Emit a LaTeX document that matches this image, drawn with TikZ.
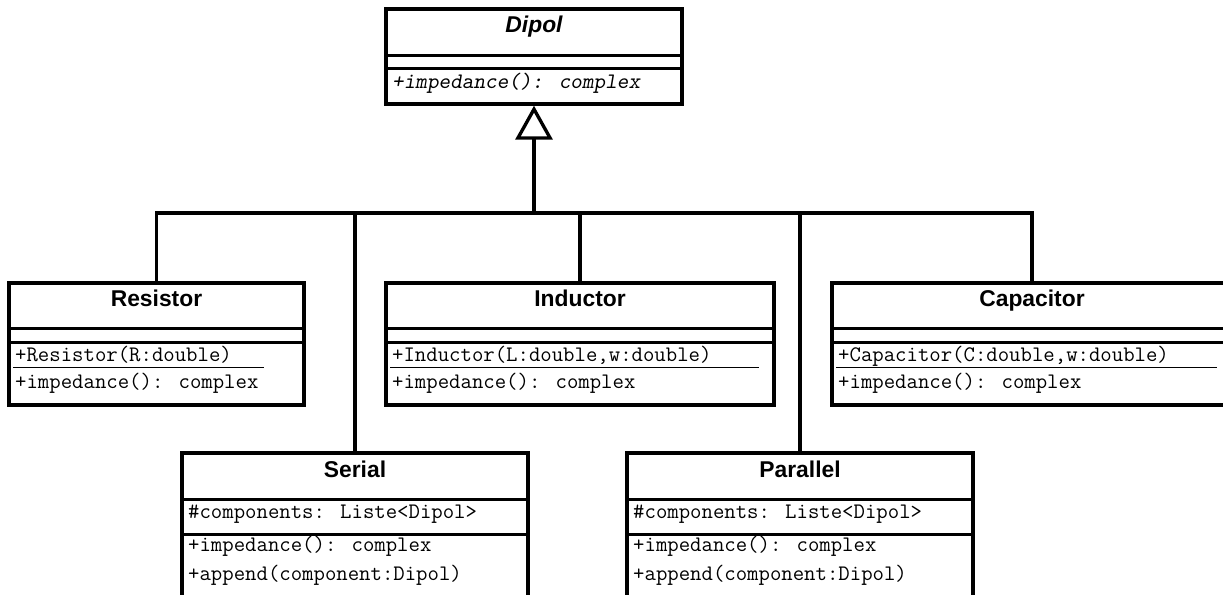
\documentclass[tikz,border=0pt]{standalone}
\usepackage{fontspec}
\setmainfont{Liberation Sans}
\usetikzlibrary{positioning}
\usetikzlibrary{calc}
\usetikzlibrary{arrows.meta}
\tikzset{
    % Class outlines and the rules between compartments
    classbox/.style={draw, rectangle, line width=1.9pt, inner sep=0},
    rule/.style={line width=1.9pt},
    static rule/.style={line width=0.9pt},
%
    % Texts: class names in bold sans, members in typewriter
    class name/.style={anchor=base, inner sep=0,
        font=\fontsize{13}{15}\selectfont\bfseries},
    abstract name/.style={anchor=base, inner sep=0,
        font=\fontsize{13}{15}\selectfont\bfseries\itshape},
    member/.style={anchor=base west, inner sep=0,
        font=\fontsize{12.6}{14}\selectfont\ttfamily},
    abstract member/.style={member,
        font=\fontsize{12.6}{14}\selectfont\ttfamily\slshape},
%
    % Generalisation lines
    inherit/.style={line width=1.9pt},
}

\begin{document}
\begin{tikzpicture}
\clip (0,0) rectangle (24.46,-11.88);

% Abstract base class
\node (dipol) [classbox, minimum width=5.92cm, minimum height=1.90cm]
    at (10.68,-1.13) {};
\node (dipol-name) [abstract name] at ($(dipol.north)+(0,-0.50)$) {Dipol};
\draw [rule] ($(dipol.north west)+(0,-0.96)$) -- ++(5.92,0);
\draw [rule] ($(dipol.north west)+(0,-1.22)$) -- ++(5.92,0);
\node (dipol-imp) [abstract member] at ($(dipol.north west)+(0.15,-1.62)$)
    {+impedance(): complex};

% Simple components
\node (resistor) [classbox, minimum width=5.90cm, minimum height=2.44cm]
    at (3.13,-6.88) {};
\node (resistor-name) [class name] at ($(resistor.north)+(0,-0.50)$) {Resistor};
\draw [rule] ($(resistor.north west)+(0,-0.94)$) -- ++(5.90,0);
\draw [rule] ($(resistor.north west)+(0,-1.22)$) -- ++(5.90,0);
\node (resistor-ctor) [member] at ($(resistor.north west)+(0.15,-1.60)$)
    {+Resistor(R:double)};
\draw [static rule] ($(resistor.north west)+(0.12,-1.72)$) -- ++(5.02,0);
\node (resistor-imp) [member] at ($(resistor.north west)+(0.15,-2.14)$)
    {+impedance(): complex};

\node (inductor) [classbox, minimum width=7.76cm, minimum height=2.44cm]
    at (11.60,-6.88) {};
\node (inductor-name) [class name] at ($(inductor.north)+(0,-0.50)$) {Inductor};
\draw [rule] ($(inductor.north west)+(0,-0.94)$) -- ++(7.76,0);
\draw [rule] ($(inductor.north west)+(0,-1.22)$) -- ++(7.76,0);
\node (inductor-ctor) [member] at ($(inductor.north west)+(0.15,-1.60)$)
    {+Inductor(L:double,w:double)};
\draw [static rule] ($(inductor.north west)+(0.12,-1.72)$) -- ++(7.38,0);
\node (inductor-imp) [member] at ($(inductor.north west)+(0.15,-2.14)$)
    {+impedance(): complex};

\node (capacitor) [classbox, minimum width=8.00cm, minimum height=2.44cm]
    at (20.64,-6.88) {};
\node (capacitor-name) [class name] at ($(capacitor.north)+(0,-0.50)$) {Capacitor};
\draw [rule] ($(capacitor.north west)+(0,-0.94)$) -- ++(8.00,0);
\draw [rule] ($(capacitor.north west)+(0,-1.22)$) -- ++(8.00,0);
\node (capacitor-ctor) [member] at ($(capacitor.north west)+(0.15,-1.60)$)
    {+Capacitor(C:double,w:double)};
\draw [static rule] ($(capacitor.north west)+(0.12,-1.72)$) -- ++(7.62,0);
\node (capacitor-imp) [member] at ($(capacitor.north west)+(0.15,-2.14)$)
    {+impedance(): complex};

% Composites
\node (serial) [classbox, minimum width=6.92cm, minimum height=2.94cm]
    at (7.10,-10.53) {};
\node (serial-name) [class name] at ($(serial.north)+(0,-0.52)$) {Serial};
\draw [rule] ($(serial.north west)+(0,-0.96)$) -- ++(6.92,0);
\node (serial-attr) [member] at ($(serial.north west)+(0.15,-1.34)$)
    {\#components: Liste<Dipol>};
\draw [rule] ($(serial.north west)+(0,-1.66)$) -- ++(6.92,0);
\node (serial-imp) [member] at ($(serial.north west)+(0.15,-2.00)$)
    {+impedance(): complex};
\node (serial-append) [member] at ($(serial.north west)+(0.15,-2.58)$)
    {+append(component:Dipol)};

\node (parallel) [classbox, minimum width=6.92cm, minimum height=2.94cm]
    at (16.00,-10.53) {};
\node (parallel-name) [class name] at ($(parallel.north)+(0,-0.52)$) {Parallel};
\draw [rule] ($(parallel.north west)+(0,-0.96)$) -- ++(6.92,0);
\node (parallel-attr) [member] at ($(parallel.north west)+(0.15,-1.34)$)
    {\#components: Liste<Dipol>};
\draw [rule] ($(parallel.north west)+(0,-1.66)$) -- ++(6.92,0);
\node (parallel-imp) [member] at ($(parallel.north west)+(0.15,-2.00)$)
    {+impedance(): complex};
\node (parallel-append) [member] at ($(parallel.north west)+(0.15,-2.58)$)
    {+append(component:Dipol)};

% Generalisation tree
\coordinate (bus) at (10.68,-4.26);
\draw [inherit] (resistor.north) |- (bus) -| (capacitor.north);
\draw [inherit] (serial.north) -- (serial.north |- bus);
\draw [inherit] (inductor.north) -- (inductor.north |- bus);
\draw [inherit] (parallel.north) -- (parallel.north |- bus);
\draw [inherit, -{Triangle[open, length=0.68cm, width=0.74cm]}]
    (bus) -- (dipol.south);

\end{tikzpicture}
\end{document}
